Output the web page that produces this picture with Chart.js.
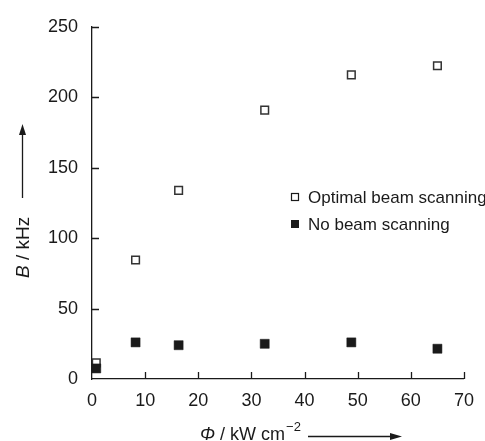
<!DOCTYPE html>
<html>
<head>
<meta charset="utf-8">
<script src="https://cdn.jsdelivr.net/npm/chart.js@4/dist/chart.umd.min.js"></script>
<style>
html,body{margin:0;padding:0;background:#fff;}
#wrap{width:485px;height:441px;position:relative;}
</style>
</head>
<body>
<div id="wrap"><canvas id="c" width="485" height="441"></canvas></div>
<script>
const fluxValues = [0.8, 8.2, 16.3, 32.5, 48.8, 65];
const optimalScanning = [11.5, 84.5, 134, 191, 216, 222.5];
const noScanning = [7.5, 26, 24, 25, 26, 21.5];
const xTicks = [0, 10, 20, 30, 40, 50, 60, 70];
const yTicks = [0, 50, 100, 150, 200, 250];
const seriesNames = ['Optimal beam scanning', 'No beam scanning'];

const FONT = '"Liberation Sans", Arial, Helvetica, sans-serif';
const INK = '#1a1a1a';

const decor = {
  id: 'decor',
  afterDraw(chart) {
    const {ctx, chartArea: a, scales: {x, y}} = chart;
    ctx.save();
    ctx.strokeStyle = INK;
    ctx.fillStyle = INK;
    ctx.lineWidth = 1.3;
    // inward ticks
    ctx.beginPath();
    xTicks.forEach(v => {
      if (v === 0) return;
      const px = Math.round(x.getPixelForValue(v)) + 0.5;
      ctx.moveTo(px, a.bottom);
      ctx.lineTo(px, a.bottom - 7);
    });
    yTicks.forEach(v => {
      if (v === 0) return;
      const py = Math.round(y.getPixelForValue(v)) + 0.5;
      ctx.moveTo(a.left, py);
      ctx.lineTo(a.left + 7, py);
    });
    ctx.stroke();

    // x title
    ctx.textBaseline = 'alphabetic';
    ctx.textAlign = 'left';
    let tx = 200, ty = 439.5;
    ctx.font = 'italic 18px ' + FONT;
    ctx.fillText('Φ', tx, ty);
    tx += ctx.measureText('Φ').width;
    ctx.font = '18px ' + FONT;
    const rest = ' / kW cm';
    ctx.fillText(rest, tx, ty);
    tx += ctx.measureText(rest).width + 1;
    ctx.font = '13px ' + FONT;
    ctx.fillText('\u22122', tx, ty - 9);
    // x arrow
    ctx.lineWidth = 1.3;
    ctx.beginPath();
    ctx.moveTo(308, 436.5); ctx.lineTo(394, 436.5); ctx.stroke();
    ctx.beginPath();
    ctx.moveTo(402, 436.5); ctx.lineTo(390, 433); ctx.lineTo(390, 440); ctx.closePath(); ctx.fill();

    // y title
    ctx.save();
    ctx.translate(29, 278);
    ctx.rotate(-Math.PI / 2);
    ctx.textAlign = 'left';
    ctx.font = 'italic 19px ' + FONT;
    ctx.fillText('B', 0, 0);
    let w = ctx.measureText('B').width;
    ctx.font = '19px ' + FONT;
    ctx.fillText(' / kHz', w, 0);
    ctx.restore();
    // y arrow
    ctx.beginPath();
    ctx.moveTo(22.5, 198); ctx.lineTo(22.5, 132); ctx.stroke();
    ctx.beginPath();
    ctx.moveTo(22.5, 124); ctx.lineTo(19, 135); ctx.lineTo(26, 135); ctx.closePath(); ctx.fill();

    // legend
    ctx.font = '17px ' + FONT;
    ctx.textBaseline = 'middle';
    ctx.textAlign = 'left';
    const lx = a.left + 203, ly1 = 197, ly2 = 224;
    ctx.lineWidth = 1.2;
    ctx.fillStyle = '#fff';
    ctx.fillRect(lx - 3.5, ly1 - 3.5, 7, 7);
    ctx.strokeRect(lx - 3.5, ly1 - 3.5, 7, 7);
    ctx.fillStyle = INK;
    ctx.fillRect(lx - 4, ly2 - 4, 8, 8);
    ctx.fillText(seriesNames[0], lx + 13, ly1 + 1);
    ctx.fillText(seriesNames[1], lx + 13, ly2 + 1);
    ctx.restore();
  }
};

new Chart(document.getElementById('c'), {
  type: 'scatter',
  data: {
    datasets: [
      {
        label: seriesNames[1],
        data: fluxValues.map((v, i) => ({x: v, y: noScanning[i]})),
        pointStyle: 'rect',
        pointRadius: 6.4,
        pointBackgroundColor: INK,
        pointBorderColor: INK,
        pointBorderWidth: 0.5
      },
      {
        label: seriesNames[0],
        data: fluxValues.map((v, i) => ({x: v, y: optimalScanning[i]})),
        pointStyle: 'rect',
        pointRadius: 5.4,
        pointBackgroundColor: '#fff',
        pointBorderColor: '#333',
        pointBorderWidth: 1.5
      }
    ]
  },
  options: {
    responsive: false,
    animation: false,
    devicePixelRatio: 1,
    layout: {padding: {top: 27, right: 15, left: 0, bottom: 0}},
    plugins: {legend: {display: false}, tooltip: {enabled: false}},
    scales: {
      x: {
        type: 'linear', min: 0, max: 70,
        afterBuildTicks: s => { s.ticks = xTicks.map(v => ({value: v})); },
        afterFit: s => { s.height = 62; },
        grid: {display: false, drawTicks: false},
        border: {display: true, color: INK, width: 1.3},
        ticks: {color: INK, font: {family: FONT, size: 18}, padding: 11, maxRotation: 0}
      },
      y: {
        type: 'linear', min: 0, max: 250,
        afterBuildTicks: s => { s.ticks = yTicks.map(v => ({value: v})); },
        afterFit: s => { s.width = 92; },
        grid: {display: false, drawTicks: false},
        border: {display: true, color: INK, width: 1.3},
        ticks: {color: INK, font: {family: FONT, size: 18}, padding: 14}
      }
    }
  },
  plugins: [decor]
});
</script>
</body>
</html>
